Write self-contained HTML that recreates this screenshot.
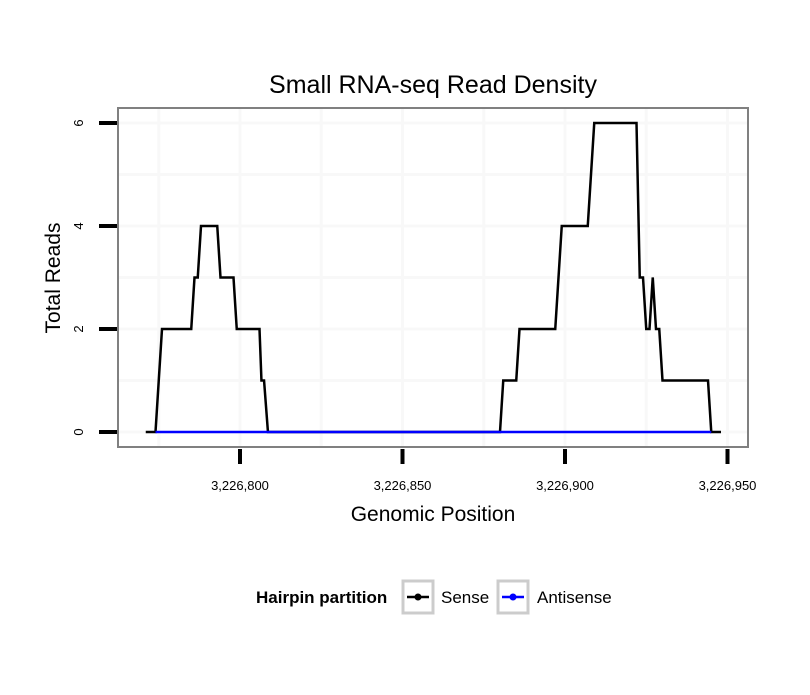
<!DOCTYPE html>
<html><head><meta charset="utf-8"><style>
body{margin:0;background:#fff}
text{font-family:"Liberation Sans",sans-serif}
</style></head><body>
<svg id="chart" width="810" height="690" xmlns="http://www.w3.org/2000/svg">
<rect width="810" height="690" fill="#fff"/>
<text x="433" y="93" font-size="25" text-anchor="middle">Small RNA-seq Read Density</text>
<g id="grid"></g>
<g id="series"></g>
<rect x="118" y="108" width="630" height="339" fill="none" stroke="#808080" stroke-width="2"/>
<g id="axes"></g>
<text x="433" y="521" font-size="21" text-anchor="middle">Genomic Position</text>
<text transform="translate(60,278) rotate(-90)" font-size="21" text-anchor="middle">Total Reads</text>
<g>
<text x="256" y="603" font-size="17" font-weight="bold">Hairpin partition</text>
<g>
<rect x="403" y="581" width="30" height="32" fill="#fff" stroke="#ccc" stroke-width="3"/>
<line x1="407" y1="597" x2="429" y2="597" stroke="#000" stroke-width="2.5"/><circle cx="418" cy="597" r="3.5" fill="#000"/>
<text x="441" y="603" font-size="17">Sense</text></g>
<g>
<rect x="498" y="581" width="30" height="32" fill="#fff" stroke="#ccc" stroke-width="3"/>
<line x1="502" y1="597" x2="524" y2="597" stroke="#00f" stroke-width="2.5"/><circle cx="513" cy="597" r="3.5" fill="#00f"/>
<text x="537" y="603" font-size="17">Antisense</text></g>
</g>
</svg>
<script>
const positions=[3226771,3226774,3226776,3226785,3226786,3226787,3226788,3226793,3226794,3226798,3226799,3226806,3226806.6,3226807.4,3226808.6,3226880,3226881,3226885,3226886,3226897,3226899,3226907,3226909,3226922,3226923,3226924,3226925,3226926,3226927,3226928,3226929,3226930,3226944,3226945,3226948];
const senseReads=[0,0,2,2,3,3,4,4,3,3,2,2,1,1,0,0,1,1,2,2,4,4,6,6,3,3,2,2,3,2,2,1,1,0,0];
const antisensePositions=[3226774,3226945];
const antisenseReads=[0,0];
const xTicks=[3226800,3226850,3226900,3226950];
const xTickLabels=["3,226,800","3,226,850","3,226,900","3,226,950"];
const xMinor=[3226775,3226825,3226875,3226925];
const yTicks=[0,2,4,6];
const yMinor=[1,3,5];
const X=v=>240+(v-3226800)*3.25;
const Y=v=>432-v*51.5;
const NS="http://www.w3.org/2000/svg";
function mk(t,a,p){const e=document.createElementNS(NS,t);for(const k in a)e.setAttribute(k,a[k]);p.appendChild(e);return e;}
const grid=document.getElementById('grid'),axes=document.getElementById('axes'),ser=document.getElementById('series');
xTicks.concat(xMinor).forEach(v=>{if(X(v)<120||X(v)>746)return;const l=mk('line',{x1:X(v),x2:X(v),y1:109,y2:446,stroke:'#f8f8f8','stroke-width':3},grid);

});
yTicks.concat(yMinor).forEach(v=>{const l=mk('line',{x1:119,x2:747,y1:Y(v),y2:Y(v),stroke:'#f8f8f8','stroke-width':3},grid);

});
xTicks.forEach((v,i)=>{const t=mk('line',{x1:X(v),x2:X(v),y1:449,y2:464,stroke:'#000','stroke-width':4},axes);


const s=mk('text',{x:X(v),y:490,'font-size':13,'text-anchor':'middle'},axes);s.textContent=xTickLabels[i];

});
yTicks.forEach(v=>{const t=mk('line',{x1:99,x2:117,y1:Y(v),y2:Y(v),stroke:'#000','stroke-width':4},axes);


const s=mk('text',{transform:`translate(83,${Y(v)}) rotate(-90)`,'font-size':13,'text-anchor':'middle'},axes);s.textContent=v;

});
const p1=mk('polyline',{points:positions.map((p,i)=>X(p)+','+Y(senseReads[i])).join(' '),fill:'none',stroke:'#000','stroke-width':2.5,'stroke-linejoin':'miter'},ser);


const p2=mk('polyline',{points:antisensePositions.map((p,i)=>X(p)+','+Y(antisenseReads[i])).join(' '),fill:'none',stroke:'#00f','stroke-width':2.5},ser);


</script>
</body></html>
